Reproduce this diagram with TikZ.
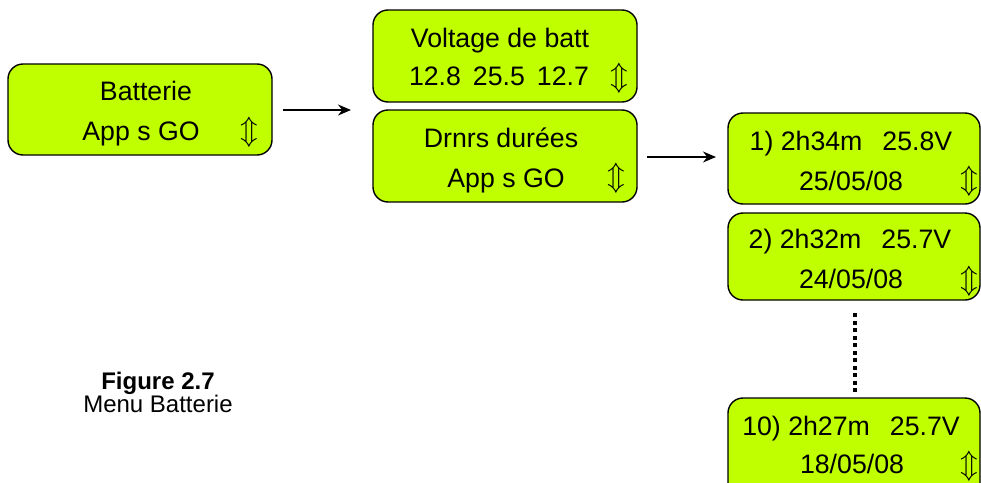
\documentclass[tikz,border=0pt]{standalone}
\usepackage{fontspec}
\setmainfont{Liberation Sans}
\usetikzlibrary{arrows.meta}
\definecolor{lcd}{RGB}{192,255,0}
\tikzset{
  lcdbox/.style={draw=black, line width=1.4pt, fill=lcd, rounded corners=15pt},
  txt/.style={anchor=base, inner sep=0pt, font=\fontsize{26.7pt}{30pt}\selectfont},
  captxt/.style={anchor=base, inner sep=0pt, font=\fontsize{24pt}{28pt}\selectfont},
  ud/.style={anchor=center, inner sep=0pt},
  conn/.style={line width=1.3pt, -{Stealth[length=13pt,width=11pt]}},
}
\newcommand{\udarr}{\scalebox{2.9}{$\Updownarrow$}}
\begin{document}
\begin{tikzpicture}[x=1pt,y=-1pt]
\useasboundingbox (0,0) rectangle (981,482);
\clip (0,0) rectangle (981,482);
% boxes
\draw[lcdbox] (8,64) rectangle (272,155);
\draw[lcdbox] (373,10) rectangle (637,102);
\draw[lcdbox] (373,110) rectangle (637,202);
\draw[lcdbox] (728,113) rectangle (980,204);
\draw[lcdbox] (728,213) rectangle (980,300);
\draw[lcdbox] (728,398) rectangle (980,500);
% box A
\node[txt] (a1) at (146,100) {Batterie};
\node[txt] (a2) at (141,140) {App s GO};
\node[ud] (a3) at (249,132) {\udarr};
% box B
\node[txt] (b1) at (500,47) {Voltage de batt};
\node[txt] (b2) at (499,85) {12.8\hspace{0.45em}25.5\hspace{0.45em}12.7};
\node[ud] (b3) at (619,78) {\udarr};
% box C
\node[txt] (c1) at (501,147) {Drnrs durées};
\node[txt] (c2) at (506,187) {App s GO};
\node[ud] (c3) at (616,178) {\udarr};
% box D
\node[txt] (d1) at (851,150) {1) 2h34m\hspace{0.75em}25.8V};
\node[txt] (d2) at (851,190) {25/05/08};
\node[ud] (d3) at (969,181) {\udarr};
% box E
\node[txt] (e1) at (850,248) {2) 2h32m\hspace{0.75em}25.7V};
\node[txt] (e2) at (851,288) {24/05/08};
\node[ud] (e3) at (969,281) {\udarr};
% box F
\node[txt] (f1) at (851,435) {10) 2h27m\hspace{0.75em}25.7V};
\node[txt] (f2) at (852,473) {18/05/08};
\node[ud] (f3) at (969,466) {\udarr};
% connectors
\coordinate (p1) at (283,110);
\coordinate (p2) at (351,110);
\coordinate (q1) at (647,157);
\coordinate (q2) at (716,157);
\draw[conn] (p1) -- (p2);
\draw[conn] (q1) -- (q2);
\coordinate (r1) at (855,313);
\coordinate (r2) at (855,393);
\draw[line width=4pt, dash pattern=on 4pt off 3.5pt] (r1) -- (r2);
% caption
\node[captxt, font=\bfseries\fontsize{24pt}{28pt}\selectfont] (cap1) at (158,389) {Figure 2.7};
\node[captxt] (cap2) at (158,412) {Menu Batterie};
\end{tikzpicture}
\end{document}
